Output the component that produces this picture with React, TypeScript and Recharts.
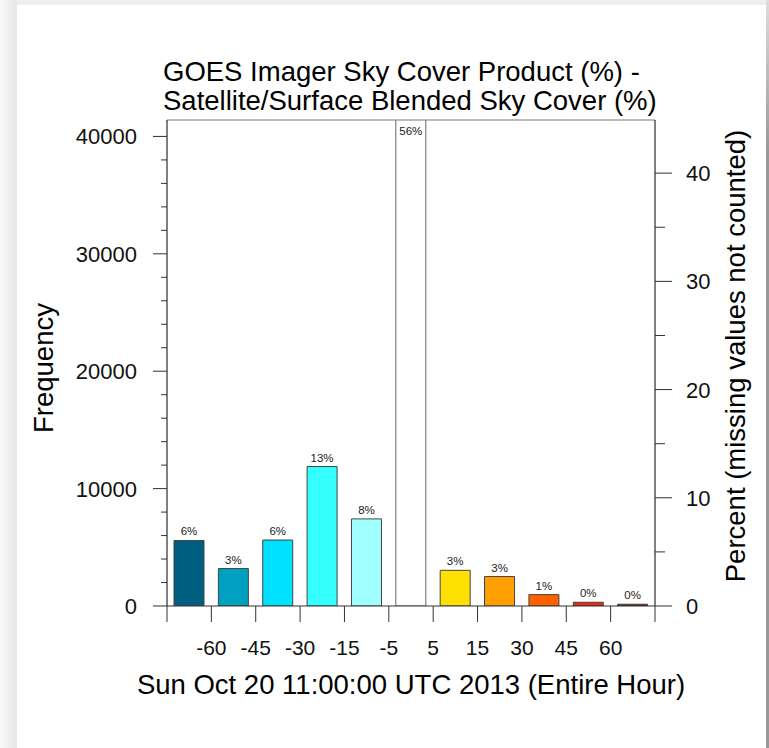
import { BarChart, Bar, Cell, XAxis, YAxis, LabelList, ReferenceLine } from "recharts";

// sky cover difference bins (satellite minus blended, %)
const BINS = [
  "< -60",
  "-60 to -45",
  "-45 to -30",
  "-30 to -15",
  "-15 to -5",
  "-5 to 5",
  "5 to 15",
  "15 to 30",
  "30 to 45",
  "45 to 60",
  "> 60",
];
const FREQUENCY = [5580, 3190, 5620, 11880, 7420, 51500, 3040, 2510, 970, 320, 150];
const BAR_COLORS = [
  "#005f80",
  "#00a0c0",
  "#00e0ff",
  "#33ffff",
  "#a0ffff",
  "#ffffff",
  "#ffe000",
  "#ffa000",
  "#ff6000",
  "#f02810",
  "#601010",
];
// labels at the bin edges, left edge of each bin plus the final right edge
const EDGE_LABELS = ["", "-60", "-45", "-30", "-15", "-5", "5", "15", "30", "45", "60", ""];
const FREQ_TICKS = [
  0, 2000, 4000, 6000, 8000, 10000, 12000, 14000, 16000, 18000, 20000, 22000, 24000, 26000, 28000,
  30000, 32000, 34000, 36000, 38000, 40000,
];
const PCT_TICKS = [0, 5, 10, 15, 20, 25, 30, 35, 40];

const TITLE = ["GOES Imager Sky Cover Product (%) -", "Satellite/Surface Blended Sky Cover (%)"];
const X_TITLE = "Sun Oct 20 11:00:00 UTC 2013 (Entire Hour)";
const Y_TITLE = "Frequency";
const Y2_TITLE = "Percent (missing values not counted)";

const Y_MAX = 41400;
const TOTAL = FREQUENCY.reduce((a, b) => a + b, 0);
const PCT_MAX = (Y_MAX / TOTAL) * 100;

const FONT = '"Liberation Sans", Arial, Helvetica, sans-serif';
const MARGIN = { top: 120, right: 14, bottom: 42, left: 67 };
const AXIS_W = 100;
const PLOT_W = 769 - MARGIN.left - MARGIN.right - 2 * AXIS_W;

const data = BINS.map((bin, i) => ({ bin, freq: FREQUENCY[i] }));

function FreqTick({ x, y, payload }: any) {
  const major = payload.value % 10000 === 0;
  return (
    <g>
      <line x1={x - (major ? 14 : 6)} x2={x} y1={y} y2={y} stroke="#333" strokeWidth={1} />
      {major && (
        <text x={x - 30} y={y} dy={8} textAnchor="end" fontSize={22} fontFamily={FONT} fill="#111">
          {payload.value}
        </text>
      )}
    </g>
  );
}

function PctTick({ x, y, payload }: any) {
  const major = payload.value % 10 === 0;
  return (
    <g>
      <line x1={x} x2={x + (major ? 17 : 10)} y1={y} y2={y} stroke="#333" strokeWidth={1} />
      {major && (
        <text x={x + 31} y={y} dy={8} textAnchor="start" fontSize={22} fontFamily={FONT} fill="#111">
          {payload.value}
        </text>
      )}
    </g>
  );
}

function EdgeTick({ x, y, payload, index }: any) {
  const half = payload.offset || PLOT_W / BINS.length / 2;
  const edges = index === BINS.length - 1 ? [index, index + 1] : [index];
  return (
    <g>
      {edges.map((e) => {
        const ex = x + (e === index ? -half : half);
        return (
          <g key={e}>
            <line x1={ex} x2={ex} y1={y} y2={y + 16} stroke="#333" strokeWidth={1} />
            <text x={ex} y={y + 49} textAnchor="middle" fontSize={21} fontFamily={FONT} fill="#111">
              {EDGE_LABELS[e]}
            </text>
          </g>
        );
      })}
    </g>
  );
}

function PctLabel({ x, y, width, value }: any) {
  const over = value > Y_MAX;
  return (
    <text
      x={x + width / 2}
      y={over ? MARGIN.top + 15 : y - 5}
      textAnchor="middle"
      fontSize={11.5}
      fontFamily={FONT}
      fill="#222"
    >
      {Math.round((value / TOTAL) * 100)}%
    </text>
  );
}

export default function App() {
  return (
    <div style={{ position: "fixed", left: 0, top: 0, width: 769, height: 748, background: "#eeeeee" }}>
      <div
        style={{
          position: "absolute",
          left: 0,
          top: 0,
          width: 17,
          height: 748,
          background: "linear-gradient(to right, #fafafa, #e6e6e6)",
        }}
      />
      <div
        style={{
          position: "absolute",
          right: 0,
          top: 0,
          width: 3,
          height: 748,
          background: "linear-gradient(to bottom, #dddddd, #999999 20%, #999999)",
        }}
      />
      <div style={{ position: "absolute", left: 17, top: 5, width: 749, height: 743, background: "#fff" }} />
      <div style={{ position: "absolute", left: 0, top: 0 }}>
        <BarChart width={769} height={748} data={data} margin={MARGIN} barSize={30}>
          <text x={163} y={81} fontSize={27.5} fontFamily={FONT} fill="#000">
            {TITLE[0]}
          </text>
          <text x={163} y={110} fontSize={27.5} fontFamily={FONT} fill="#000">
            {TITLE[1]}
          </text>
          <XAxis
            dataKey="bin"
            type="category"
            interval={0}
            height={100}
            tickSize={0}
            tickMargin={0}
            tickLine={false}
            axisLine={{ stroke: "#333" }}
            tick={<EdgeTick />}
            label={(p: any) => (
              <text
                x={p.viewBox.x + p.viewBox.width / 2}
                y={694}
                textAnchor="middle"
                fontSize={27.5}
                fontFamily={FONT}
                fill="#000"
              >
                {X_TITLE}
              </text>
            )}
          />
          <YAxis
            yAxisId="freq"
            domain={[0, Y_MAX]}
            allowDataOverflow
            ticks={FREQ_TICKS}
            interval={0}
            width={AXIS_W}
            tickSize={0}
            tickMargin={0}
            tickLine={false}
            axisLine={{ stroke: "#000" }}
            tick={<FreqTick />}
            label={(p: any) => {
              const cx = 53;
              const cy = p.viewBox.y + p.viewBox.height / 2 + 5;
              return (
                <text
                  x={cx}
                  y={cy}
                  transform={`rotate(-90 ${cx} ${cy})`}
                  textAnchor="middle"
                  fontSize={27.5}
                  fontFamily={FONT}
                  fill="#000"
                >
                  {Y_TITLE}
                </text>
              );
            }}
          />
          <YAxis
            yAxisId="pct"
            orientation="right"
            domain={[0, PCT_MAX]}
            allowDataOverflow
            ticks={PCT_TICKS}
            interval={0}
            width={AXIS_W}
            tickSize={0}
            tickMargin={0}
            tickLine={false}
            axisLine={{ stroke: "#000" }}
            tick={<PctTick />}
            label={(p: any) => {
              const cx = 745;
              const cy = p.viewBox.y + p.viewBox.height / 2 - 7;
              return (
                <text
                  x={cx}
                  y={cy}
                  transform={`rotate(-90 ${cx} ${cy})`}
                  textAnchor="middle"
                  fontSize={27.5}
                  fontFamily={FONT}
                  fill="#000"
                >
                  {Y2_TITLE}
                </text>
              );
            }}
          />
          <ReferenceLine yAxisId="freq" y={Y_MAX} stroke="#777" strokeWidth={1} />
          <Bar yAxisId="freq" dataKey="freq" isAnimationActive={false}>
            {data.map((d, i) => (
              <Cell key={d.bin} fill={BAR_COLORS[i]} stroke={i === 5 ? "#666" : "#444"} strokeWidth={1} />
            ))}
            <LabelList dataKey="freq" content={<PctLabel />} />
          </Bar>
        </BarChart>
      </div>
    </div>
  );
}
